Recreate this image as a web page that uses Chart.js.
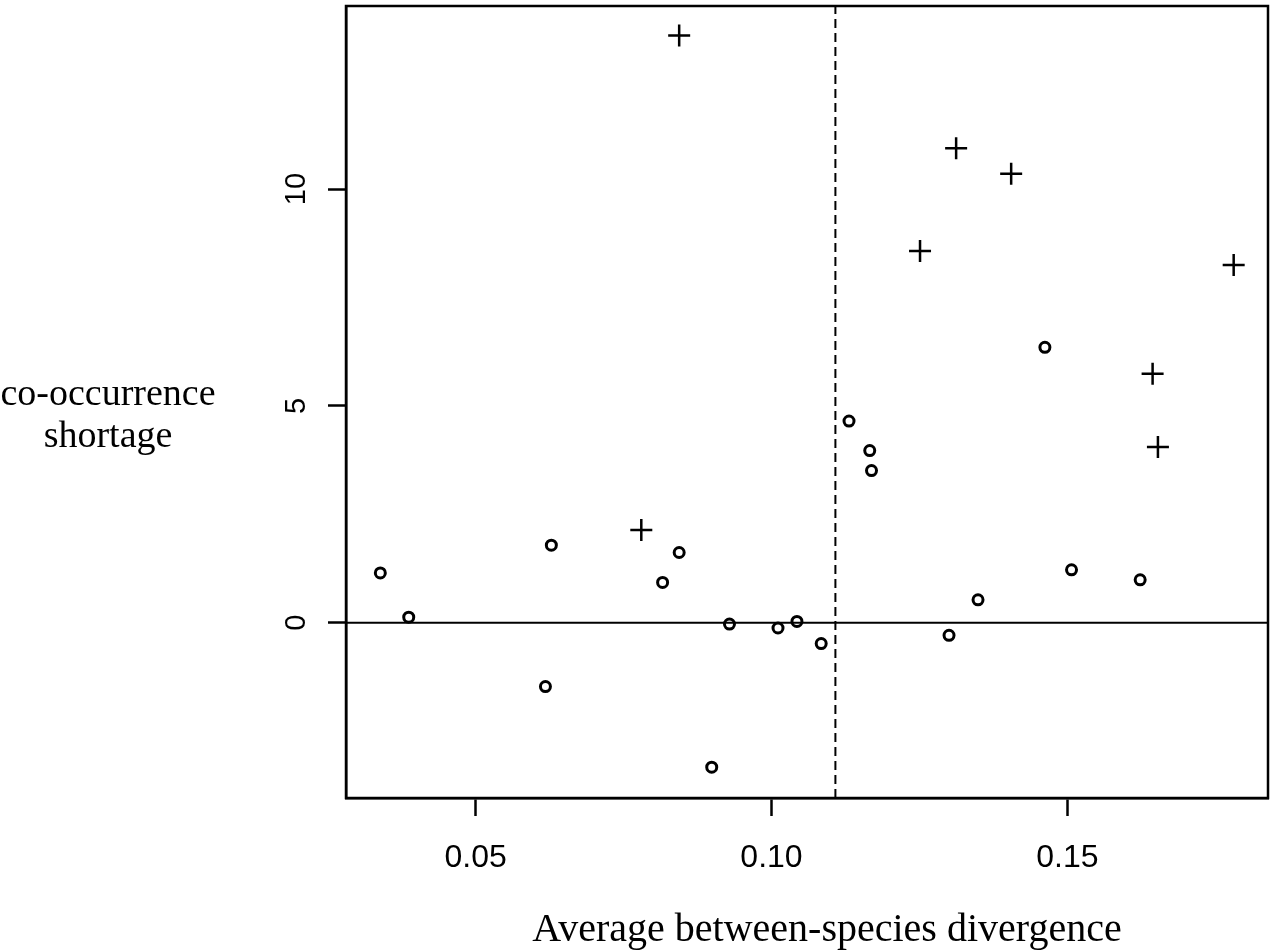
<!DOCTYPE html>
<html>
<head>
<meta charset="utf-8">
<script src="https://cdn.jsdelivr.net/npm/chart.js@4/dist/chart.umd.min.js"></script>
<style>
  body { margin: 0; background: #fff; }
  #wrap { width: 1280px; height: 952px; }
</style>
</head>
<body>
<div id="wrap"><canvas id="scatterChart"></canvas></div>
<script>
// divergence (x) and co-occurrence shortage (y)
var circleX = [0.0339, 0.0387, 0.0628, 0.0618, 0.0816, 0.0844, 0.0899, 0.0929, 0.1011, 0.1043,
               0.1084, 0.1131, 0.1166, 0.1169, 0.1300, 0.1349, 0.1462, 0.1507, 0.1623];
var circleY = [1.15, 0.13, 1.79, -1.47, 0.93, 1.62, -3.33, -0.03, -0.12, 0.03,
               -0.48, 4.65, 3.97, 3.51, -0.29, 0.53, 6.35, 1.22, 0.99];
var crossX = [0.0844, 0.0780, 0.1312, 0.1405, 0.1251, 0.1781, 0.1644, 0.1653];
var crossY = [13.54, 2.14, 10.94, 10.35, 8.57, 8.25, 5.74, 4.05];

var cutoffX = 0.1108;   // dashed vertical line
var zeroY = 0;          // solid horizontal line

var xTicks = [0.05, 0.10, 0.15];
var yTicks = [0, 5, 10];
var xMin = 0.0281, xMax = 0.1839;
var yMin = -4.04, yMax = 14.22;

var xTitle = "Average between-species divergence";
var yTitle = ["co-occurrence", "shortage"];

function pairs(xs, ys) {
  return xs.map(function (x, i) { return { x: x, y: ys[i] }; });
}

// frame + horizontal y title (R style)
var extras = {
  id: 'extras',
  afterDraw: function (chart) {
    var ctx = chart.ctx, a = chart.chartArea;
    ctx.save();
    ctx.strokeStyle = '#000';
    ctx.lineWidth = 2.5;
    ctx.strokeRect(a.left, a.top, a.right - a.left, a.bottom - a.top);
    ctx.fillStyle = '#000';
    ctx.font = '38px "Liberation Serif", "Times New Roman", serif';
    ctx.textAlign = 'center';
    ctx.textBaseline = 'alphabetic';
    var mid = (a.top + a.bottom) / 2;
    ctx.fillText(yTitle[0], 108, mid + 3);
    ctx.fillText(yTitle[1], 108, mid + 45);
    ctx.font = '40px "Liberation Serif", "Times New Roman", serif';
    ctx.fillText(xTitle, 827, 941);
    ctx.restore();
  }
};

var ctxS = document.getElementById("scatterChart").getContext('2d');
var myChart = new Chart(ctxS, {
  type: 'scatter',
  data: {
    datasets: [{
        label: 'zero',
        data: [{ x: xMin, y: zeroY }, { x: xMax, y: zeroY }],
        showLine: true,
        borderColor: '#000',
        borderWidth: 2,
        pointRadius: 0
      }, {
        label: 'cutoff',
        data: [{ x: cutoffX, y: yMin }, { x: cutoffX, y: yMax }],
        showLine: true,
        borderColor: '#000',
        borderWidth: 2,
        borderDash: [9, 5],
        pointRadius: 0
      }, {
        label: 'circles',
        data: pairs(circleX, circleY),
        pointStyle: 'circle',
        pointRadius: 5,
        borderWidth: 3,
        pointBorderWidth: 3,
        borderColor: '#000',
        pointBorderColor: '#000',
        backgroundColor: 'rgba(0,0,0,0)',
        pointBackgroundColor: 'rgba(0,0,0,0)'
      }, {
        label: 'crosses',
        data: pairs(crossX, crossY),
        pointStyle: 'cross',
        pointRadius: 11,
        borderWidth: 2.5,
        pointBorderWidth: 2.5,
        borderColor: '#000',
        pointBorderColor: '#000',
        backgroundColor: '#000'
      }
    ]
  },
  options: {
    responsive: true,
    maintainAspectRatio: false,
    animation: false,
    events: [],
    layout: { autoPadding: false, padding: { top: 6, right: 12, left: 0, bottom: 0 } },
    plugins: { legend: { display: false }, tooltip: { enabled: false } },
    scales: {
      x: {
        type: 'linear',
        min: xMin,
        max: xMax,
        afterBuildTicks: function (s) { s.ticks = xTicks.map(function (v) { return { value: v }; }); },
        afterFit: function (s) { s.height = 154; s.paddingLeft = 0; s.paddingRight = 0; },
        grid: { drawOnChartArea: false, drawTicks: true, tickLength: 18, tickColor: '#000', tickWidth: 2.5 },
        border: { color: '#000', width: 2.5 },
        ticks: {
          color: '#000',
          padding: 23,
          maxRotation: 0,
          font: { family: '"Liberation Sans", Arial, sans-serif', size: 32 },
          callback: function (v) { return v.toFixed(2); }
        }
      },
      y: {
        type: 'linear',
        min: yMin,
        max: yMax,
        afterBuildTicks: function (s) { s.ticks = yTicks.map(function (v) { return { value: v }; }); },
        afterFit: function (s) { s.width = 346; s.paddingTop = 0; s.paddingBottom = 0; },
        grid: { drawOnChartArea: false, drawTicks: true, tickLength: 18, tickColor: '#000', tickWidth: 2.5 },
        border: { color: '#000', width: 2.5 },
        ticks: {
          color: '#000',
          padding: 15,
          minRotation: 90,
          maxRotation: 90,
          crossAlign: 'center',
          font: { family: '"Liberation Sans", Arial, sans-serif', size: 29 },
          callback: function (v) { return String(v); }
        }
      }
    }
  },
  plugins: [extras]
});
</script>
</body>
</html>
